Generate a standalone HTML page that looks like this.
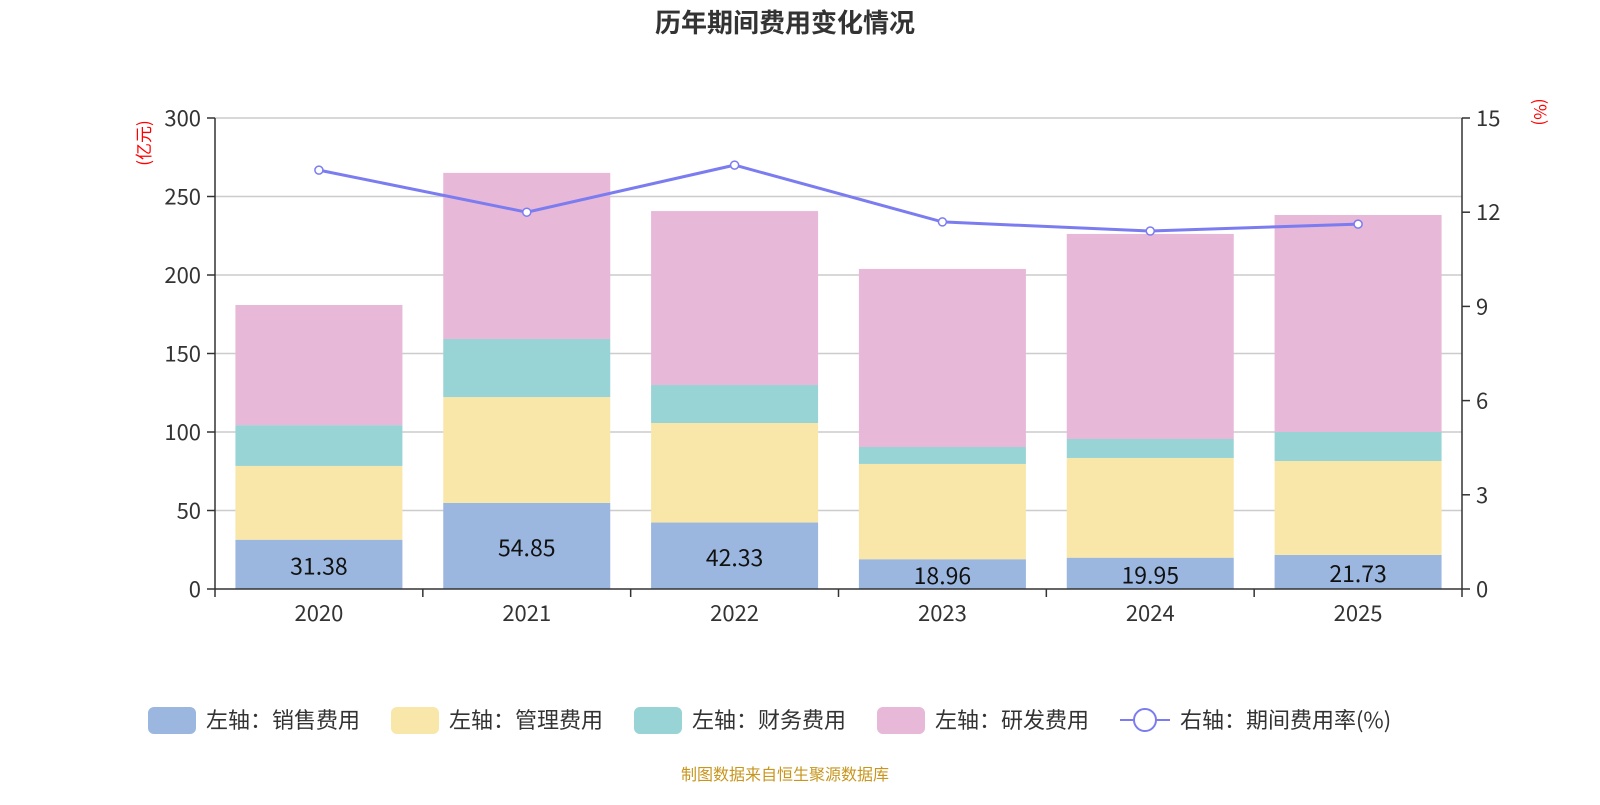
<!DOCTYPE html>
<html><head><meta charset="utf-8"><style>
body{margin:0;background:#fff;width:1600px;height:800px;overflow:hidden;font-family:"Noto Sans CJK SC",sans-serif;}
</style></head><body>
<svg id="c" width="1600" height="800" xmlns="http://www.w3.org/2000/svg"></svg>
<script>
const categories=["2020","2021","2022","2023","2024","2025"];
const sales=[31.38,54.85,42.33,18.96,19.95,21.73];
const mgmt=[47,67.4,63.4,60.7,63.5,59.8];
const fin=[26,37,24.2,10.8,12.1,18.5];
const rd=[76.5,105.8,110.8,113.4,130.6,138.2];
const rate=[13.34,12.0,13.5,11.69,11.4,11.62];
const leftTicks=[0,50,100,150,200,250,300];
const rightTicks=[0,3,6,9,12,15];
const F='"Noto Sans CJK SC",sans-serif';
const svg=document.getElementById('c');
const NS='http://www.w3.org/2000/svg';
function mk(t,a,txt){const e=document.createElementNS(NS,t);for(const k in a)e.setAttribute(k,a[k]);if(txt!==undefined)e.textContent=txt;svg.appendChild(e);return e;}
const X0=215,X1=1462,Y0=589,Y1=118;
const band=(X1-X0)/categories.length;
const yL=v=>Y0-(v/300)*(Y0-Y1);
const yR=v=>Y0-(v/15)*(Y0-Y1);
const xc=i=>X0+band*(i+0.5);
let e;
e=mk('text',{x:785,y:32,'text-anchor':'middle','font-size':26,'font-weight':'bold',fill:'#333','font-family':F},'历年期间费用变化情况');

leftTicks.forEach(t=>{
 if(t>0){e=mk('line',{x1:X0,x2:X1,y1:yL(t),y2:yL(t),stroke:'#ccc','stroke-width':1.5});}
 e=mk('line',{x1:X0-8,x2:X0,y1:yL(t),y2:yL(t),stroke:'#333','stroke-width':1.5});
 e=mk('text',{x:X0-14,y:yL(t)+8,'text-anchor':'end','font-size':22,fill:'#333','font-family':F},t);
 
});
rightTicks.forEach(t=>{
 mk('line',{x1:X1,x2:X1+8,y1:yR(t),y2:yR(t),stroke:'#333','stroke-width':1.5});
 e=mk('text',{x:X1+14,y:yR(t)+8,'font-size':22,fill:'#333','font-family':F},t);
 
});
const series=[[sales,'#9bb7e0'],[mgmt,'#f8e7a9'],[fin,'#98d4d5'],[rd,'#e7b8d8']];
const names=['sales','mgmt','finance','rd'];
categories.forEach((c,i)=>{
 let base=0;const bw=167;
 series.forEach((s,k)=>{
  const v=s[0][i];
  e=mk('rect',{x:xc(i)-bw/2,y:yL(base+v),width:bw,height:yL(base)-yL(base+v),fill:s[1]});
  
  base+=v;
 });
 e=mk('text',{x:xc(i),y:(yL(0)+yL(sales[i]))/2+10,'text-anchor':'middle','font-size':23,fill:'#111','font-family':F},sales[i].toFixed(2));
 
 e=mk('text',{x:xc(i),y:621,'text-anchor':'middle','font-size':22,fill:'#333','font-family':F},c);
 
});
for(let i=0;i<=categories.length;i++)mk('line',{x1:X0+band*i,x2:X0+band*i,y1:Y0,y2:Y0+8,stroke:'#333','stroke-width':1.5});
mk('line',{x1:X0,x2:X0,y1:Y1,y2:Y0,stroke:'#333','stroke-width':1.5});
mk('line',{x1:X1,x2:X1,y1:Y1,y2:Y0,stroke:'#333','stroke-width':1.5});
e=mk('line',{x1:X0,x2:X1,y1:Y0,y2:Y0,stroke:'#333','stroke-width':1.5});
e=mk('polyline',{points:rate.map((v,i)=>xc(i)+','+yR(v)).join(' '),fill:'none',stroke:'#7b7cf0','stroke-width':3});

rate.forEach((v,i)=>{e=mk('circle',{cx:xc(i),cy:yR(v),r:4,fill:'#fff',stroke:'#7b7cf0','stroke-width':1.5});});
e=mk('text',{x:0,y:0,transform:'translate(150,143) rotate(-90)','text-anchor':'middle','font-size':17,fill:'#f00','font-family':F},'(亿元)');

e=mk('text',{x:0,y:0,transform:'translate(1534,112) rotate(90)','text-anchor':'middle','font-size':17,fill:'#f00','font-family':F},'(%)');

const legend=[['左轴：销售费用','#9bb7e0',148],['左轴：管理费用','#f8e7a9',391],['左轴：财务费用','#98d4d5',634],['左轴：研发费用','#e7b8d8',877]];
legend.forEach(l=>{
 e=mk('rect',{x:l[2],y:707,width:48,height:27,rx:6,fill:l[1]});
 e=mk('text',{x:l[2]+58,y:728,'font-size':22,fill:'#333','font-family':F},l[0]);
});
mk('line',{x1:1120,x2:1170,y1:720,y2:720,stroke:'#7b7cf0','stroke-width':2});
e=mk('circle',{cx:1145,cy:720,r:11,fill:'#fff',stroke:'#7b7cf0','stroke-width':2});
e=mk('text',{x:1180,y:728,'font-size':22,fill:'#333','font-family':F},'右轴：期间费用率(%)');
e=mk('text',{x:785,y:780,'text-anchor':'middle','font-size':16,fill:'#c8961e','font-family':F},'制图数据来自恒生聚源数据库');

</script>
</body></html>
